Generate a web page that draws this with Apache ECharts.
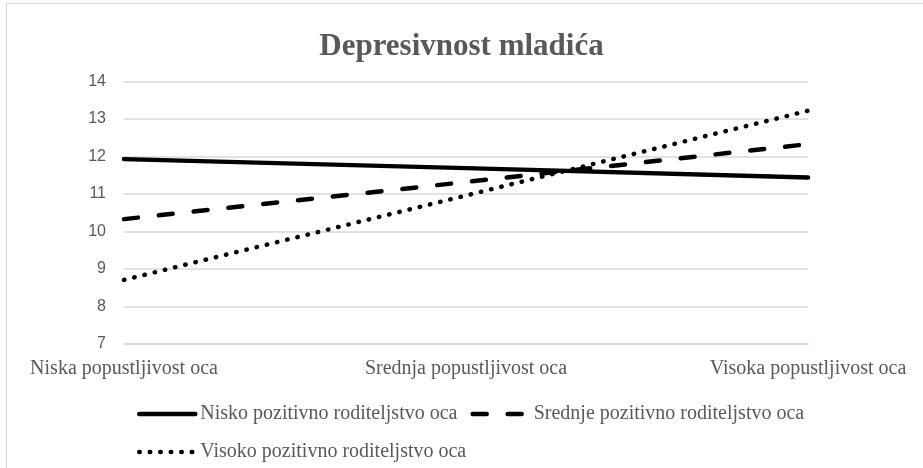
<!DOCTYPE html>
<html>
<head>
<meta charset="utf-8">
<script src="https://cdn.jsdelivr.net/npm/echarts@6/dist/echarts.min.js"></script>
<style>
  html, body { margin: 0; padding: 0; background: #fff; }
  #frame { position: absolute; left: 6px; top: 3px; width: 1000px; height: 1000px;
           border-left: 1px solid #d9d9d9; border-top: 1px solid #d9d9d9; }
  #chart { position: absolute; left: 0; top: 0; width: 923px; height: 468px; }
</style>
</head>
<body>
<div id="frame"></div>
<div id="chart"></div>
<script>
var categories = ['Niska popustljivost oca', 'Srednja popustljivost oca', 'Visoka popustljivost oca'];
var seriesNames = ['Nisko pozitivno roditeljstvo oca', 'Srednje pozitivno roditeljstvo oca', 'Visoko pozitivno roditeljstvo oca'];
var nisko = [11.93, 11.69, 11.44];
var srednje = [10.33, 11.32, 12.33];
var visoko = [8.71, 10.96, 13.22];
var yTicks = [7, 8, 9, 10, 11, 12, 13, 14];

var serif = '"Liberation Serif", serif';
var gray = '#595959';

var chart = echarts.init(document.getElementById('chart'), null, { renderer: 'canvas' });

var lineSeries = function(name, values, dash) {
  return {
    name: name,
    type: 'line',
    data: values,
    showSymbol: false,
    symbol: 'none',
    lineStyle: { color: '#000', width: 4.5, type: dash, cap: 'round' },
    itemStyle: { color: '#000' },
    emphasis: { disabled: true }
  };
};

// legend text and icons, same for both legend rows
var legendCommon = {
  itemWidth: 56, itemHeight: 14,
  itemStyle: { opacity: 0 },
  lineStyle: { width: 4.5 },
  textStyle: { fontFamily: serif, fontSize: 20, color: gray }
};

option = {
  animation: false,
  title: {
    text: 'Depresivnost mladića',
    left: 'center',
    top: 26,
    textStyle: { fontFamily: serif, fontSize: 31, fontWeight: 'bold', color: gray }
  },
  legend: [
    Object.assign({
      data: [seriesNames[0], seriesNames[1]],
      left: 132, top: 399, itemGap: 13
    }, legendCommon),
    Object.assign({
      data: [seriesNames[2]],
      left: 132, top: 437
    }, legendCommon)
  ],
  grid: { left: 124, right: 115, top: 81.5, bottom: 124 },
  xAxis: {
    type: 'category',
    data: categories,
    boundaryGap: false,
    axisLine: { show: true, lineStyle: { color: '#d9d9d9', width: 1.5 } },
    axisTick: { show: false },
    axisLabel: { fontFamily: serif, fontSize: 20, color: gray, margin: 15 }
  },
  yAxis: {
    type: 'value',
    min: yTicks[0],
    max: yTicks[yTicks.length - 1],
    interval: 1,
    axisLine: { show: false },
    axisTick: { show: false },
    axisLabel: { fontFamily: '"Liberation Sans", sans-serif', fontSize: 16, color: gray, margin: 18 },
    splitLine: { lineStyle: { color: '#d9d9d9', width: 1.5 } }
  },
  series: [
    lineSeries(seriesNames[0], nisko, 'solid'),
    lineSeries(seriesNames[1], srednje, [14, 21]),
    lineSeries(seriesNames[2], visoko, [0.5, 10])
  ]
};
chart.setOption(option);
</script>
</body>
</html>
